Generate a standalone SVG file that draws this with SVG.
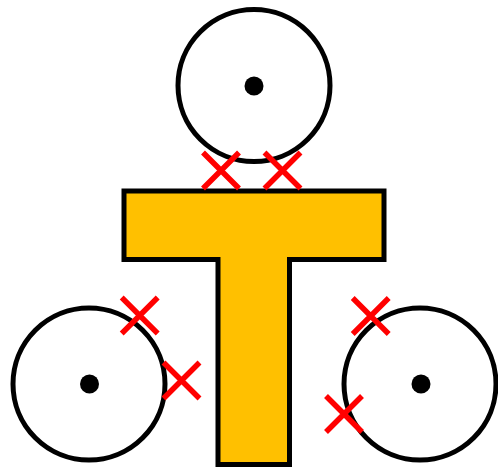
<svg xmlns="http://www.w3.org/2000/svg" width="498" height="470" viewBox="0 0 498 470">
<style>
.wheel{fill:#fff;stroke:#000;stroke-width:5}
.dot{fill:#000}
.x{stroke:#ff0000;stroke-width:5.5;fill:none}
</style>
<defs>
<path id="cross" class="x" d="M-18,-18L18,18M-18,18L18,-18"/>
</defs>
<rect width="498" height="470" fill="#fff"/>
<g id="top-wheel">
<circle class="wheel" cx="254" cy="85.5" r="76"/>
<circle class="dot" cx="254" cy="86" r="9.5"/>
</g>
<g id="left-wheel">
<circle class="wheel" cx="89" cy="384" r="76"/>
<circle class="dot" cx="89.5" cy="384" r="9.5"/>
</g>
<g id="right-wheel">
<circle class="wheel" cx="420" cy="384" r="76"/>
<circle class="dot" cx="421" cy="384" r="9.5"/>
</g>
<g id="T">
<path d="M124,191H384V259.5H289.5V464.5H218V259.5H124Z" fill="#FFC000" stroke="#000" stroke-width="5" stroke-linejoin="miter"/>
</g>
<g id="crosses">
<use href="#cross" x="221" y="170.5"/>
<use href="#cross" x="282.5" y="170.5"/>
<use href="#cross" x="139.7" y="315.5"/>
<use href="#cross" x="181.5" y="380.5"/>
<use href="#cross" x="370.7" y="316"/>
<use href="#cross" x="344" y="414"/>
</g>
</svg>
